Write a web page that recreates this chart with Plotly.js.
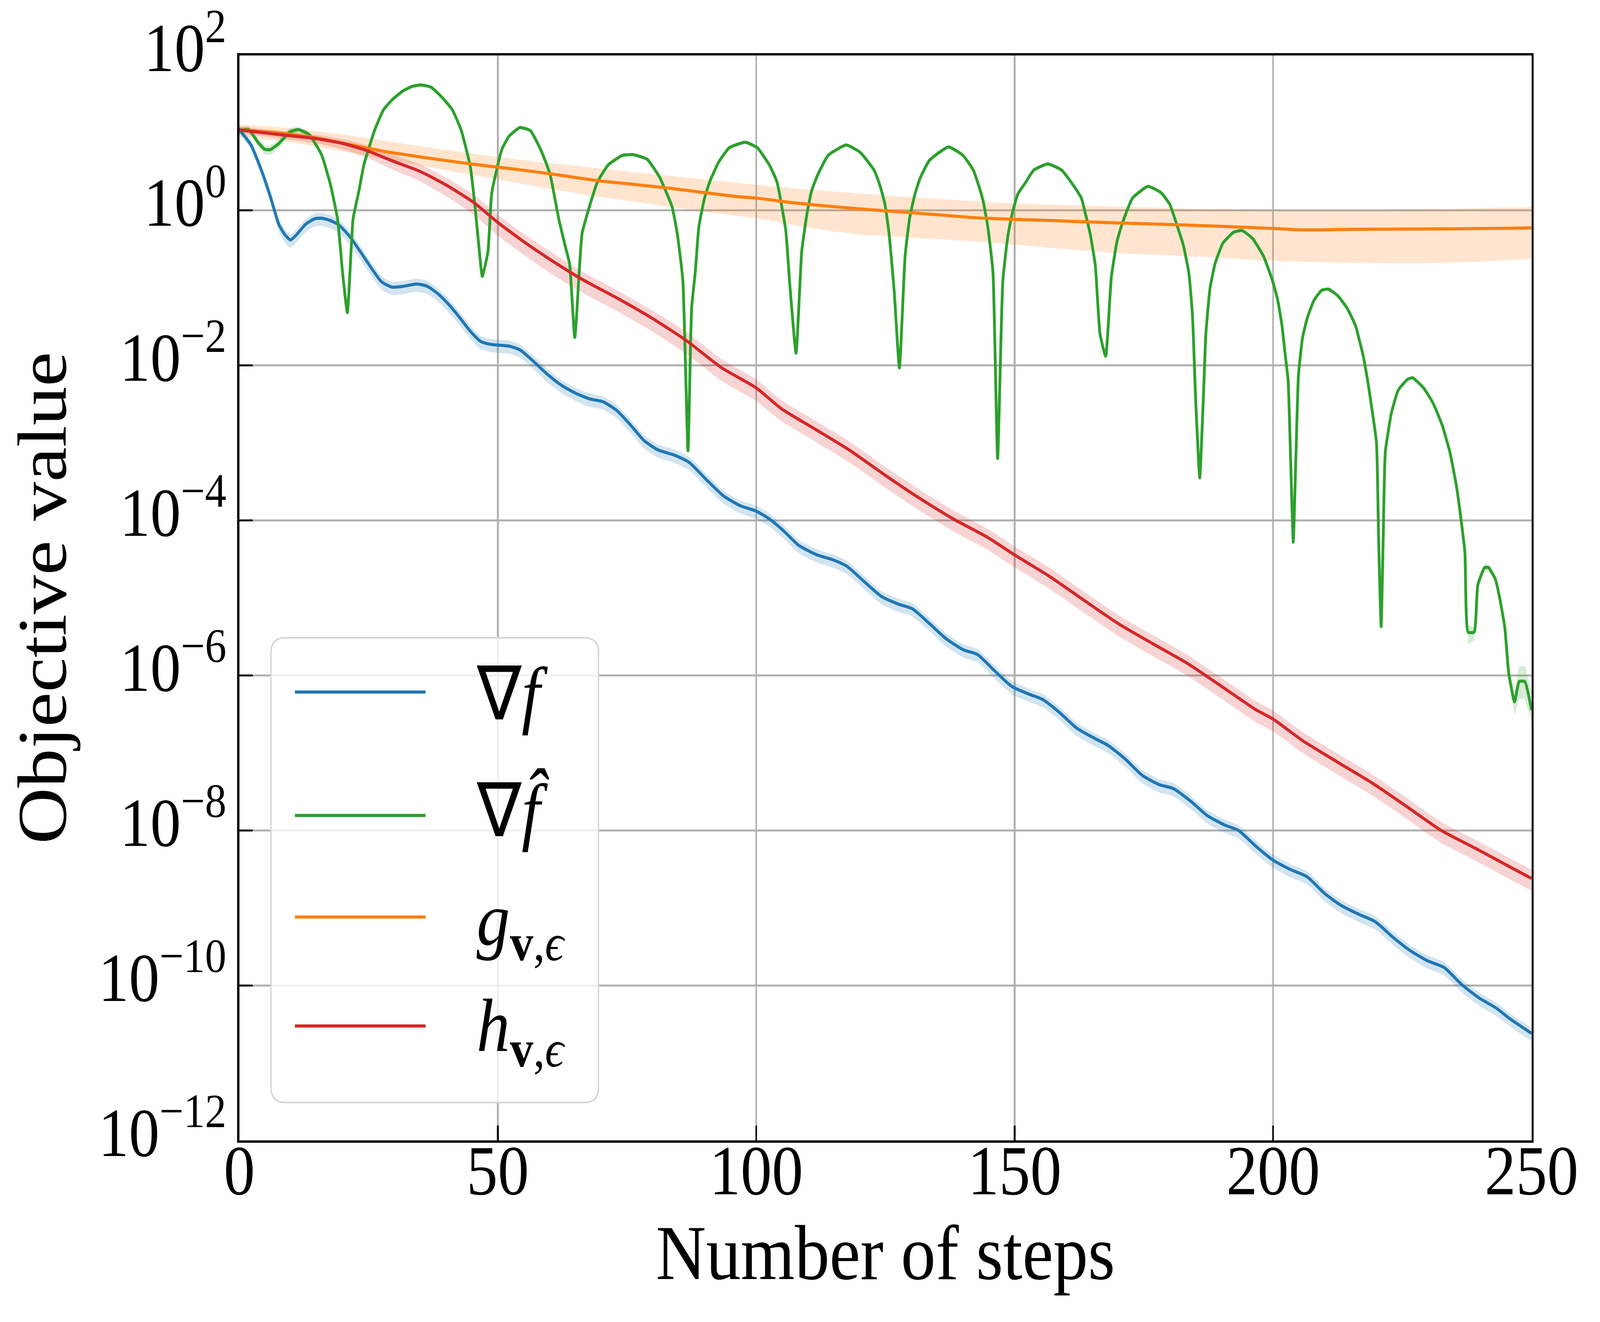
<!DOCTYPE html>
<html>
<head>
<meta charset="utf-8">
<script src="https://cdn.plot.ly/plotly-3.0.1.min.js"></script>
<style>
html, body { margin: 0; padding: 0; background: #ffffff; overflow: hidden; }
#chart { width: 4606px; height: 3385px; transform-origin: 0 0; }
</style>
</head>
<body>
<div id="chart"></div>
<script>
// ---------------- DATA ----------------
const xTickVals = [0, 50, 100, 150, 200, 250];
const xTickText = ['0', '50', '100', '150', '200', '250'];
const yTickExponents = [2, 0, -2, -4, -6, -8, -10, -12];
const seriesLabels = [
  '\u2207<i>f</i>',
  '\u2207<i>f\u0302</i>',
  '<i>g</i><sub><b>v</b>,<i>\u03F5</i></sub>',
  '<i>h</i><sub><b>v</b>,<i>\u03F5</i></sub>'
];
const xTitle = 'Number of steps';
const yTitle = 'Objective value';

// gradient of f : [step, log10 mean, log10 band low, log10 band high]
const gradF = [
  [0, 1.04, 0.99, 1.09], [2.2, 0.85, 0.79, 0.91], [4.2, 0.53, 0.45, 0.60], [6.0, 0.18, 0.09, 0.25],
  [7.7, -0.19, -0.28, -0.12], [8.9, -0.32, -0.42, -0.25], [9.9, -0.38, -0.48, -0.31], [11.1, -0.31, -0.41, -0.24],
  [12.8, -0.18, -0.28, -0.11], [14.5, -0.11, -0.21, -0.04], [15.9, -0.10, -0.20, -0.03], [17.6, -0.13, -0.23, -0.06],
  [19.3, -0.19, -0.29, -0.12], [21.4, -0.34, -0.44, -0.27], [23.4, -0.53, -0.63, -0.46], [25.5, -0.74, -0.84, -0.67],
  [27.5, -0.92, -1.02, -0.85], [29.6, -0.99, -1.09, -0.92], [31.6, -0.98, -1.08, -0.91], [34.4, -0.95, -1.05, -0.88],
  [36.4, -0.98, -1.08, -0.91], [38.5, -1.08, -1.18, -1.01], [40.6, -1.22, -1.32, -1.15], [42.6, -1.38, -1.48, -1.31],
  [44.7, -1.56, -1.66, -1.49], [46.7, -1.69, -1.79, -1.62], [48.8, -1.73, -1.83, -1.66], [52.2, -1.75, -1.85, -1.68],
  [54.3, -1.80, -1.90, -1.73], [56.3, -1.91, -2.01, -1.84], [59.7, -2.12, -2.22, -2.05], [62.4, -2.26, -2.36, -2.19],
  [65.1, -2.36, -2.46, -2.29], [67.7, -2.43, -2.53, -2.36], [70.4, -2.47, -2.57, -2.40], [73.0, -2.58, -2.68, -2.51],
  [75.7, -2.77, -2.87, -2.70], [78.3, -2.97, -3.07, -2.90], [81.0, -3.09, -3.19, -3.02], [84.3, -3.16, -3.26, -3.09],
  [87.0, -3.25, -3.35, -3.18], [90.3, -3.47, -3.57, -3.40], [93.6, -3.68, -3.78, -3.61], [96.9, -3.81, -3.91, -3.74],
  [100.0, -3.88, -3.98, -3.81], [102.3, -3.97, -4.07, -3.90], [104.9, -4.11, -4.21, -4.04], [108.2, -4.32, -4.42, -4.25],
  [111.6, -4.44, -4.54, -4.37], [114.9, -4.51, -4.61, -4.44], [117.5, -4.59, -4.69, -4.52], [120.9, -4.79, -4.89, -4.72],
  [124.2, -4.98, -5.08, -4.91], [127.5, -5.08, -5.18, -5.01], [130.2, -5.14, -5.24, -5.07], [133.5, -5.33, -5.43, -5.26],
  [136.8, -5.53, -5.63, -5.46], [140.1, -5.67, -5.77, -5.60], [142.8, -5.73, -5.83, -5.66], [146.1, -5.94, -6.04, -5.87],
  [149.4, -6.14, -6.24, -6.07], [152.7, -6.24, -6.34, -6.17], [155.4, -6.31, -6.41, -6.24], [158.7, -6.48, -6.58, -6.41],
  [162.0, -6.68, -6.78, -6.61], [165.4, -6.81, -6.91, -6.74], [168.0, -6.90, -7.00, -6.83], [171.4, -7.08, -7.18, -7.01],
  [174.7, -7.29, -7.39, -7.22], [178.0, -7.41, -7.51, -7.34], [180.7, -7.46, -7.56, -7.39], [184.0, -7.62, -7.72, -7.55],
  [187.3, -7.81, -7.91, -7.74], [190.6, -7.93, -8.03, -7.86], [193.3, -8.00, -8.10, -7.93], [196.6, -8.20, -8.30, -8.13],
  [199.9, -8.38, -8.48, -8.31], [203.2, -8.50, -8.60, -8.43], [206.6, -8.60, -8.70, -8.53], [209.9, -8.81, -8.91, -8.74],
  [213.2, -8.97, -9.07, -8.90], [216.5, -9.08, -9.18, -9.01], [219.8, -9.18, -9.28, -9.11], [223.2, -9.38, -9.48, -9.31],
  [226.5, -9.55, -9.65, -9.48], [229.8, -9.68, -9.78, -9.61], [233.1, -9.77, -9.87, -9.70], [236.5, -9.99, -10.09, -9.92],
  [239.8, -10.16, -10.26, -10.09], [243.1, -10.29, -10.39, -10.22], [245.8, -10.43, -10.53, -10.36], [250.0, -10.62, -10.72, -10.55]
];

// gradient of f-hat : [step, log10 mean]
const gradFHat = [
  [0, 1.03], [1.8, 1.044], [3.6, 0.88], [4.9, 0.79], [6.0, 0.785], [7.7, 0.867], [9.7, 1.01], [11.4, 1.044],
  [13.5, 0.98], [15.9, 0.72], [17.6, 0.34], [19.0, -0.11], [20.0, -0.82], [20.9, -1.32], [22.0, -0.11], [23.1, 0.24],
  [24.1, 0.59], [26.2, 1.04], [27.9, 1.30], [29.6, 1.43], [31.6, 1.54], [33.4, 1.60], [35.1, 1.62], [37.1, 1.59],
  [39.2, 1.46], [41.2, 1.30], [42.9, 1.04], [44.7, 0.56], [45.7, -0.02], [46.4, -0.50], [47.0, -0.85], [48.1, -0.53],
  [48.8, 0.21], [49.8, 0.53], [50.8, 0.79], [52.2, 0.96], [54.3, 1.07], [56.3, 1.03], [58.4, 0.77], [60.1, 0.47],
  [61.8, -0.11], [63.2, -0.50], [63.9, -0.69], [64.9, -1.64], [66.3, -0.30], [67.6, 0.02], [69.3, 0.37], [71.4, 0.59],
  [74.1, 0.71], [76.2, 0.72], [78.9, 0.66], [81.3, 0.43], [83.7, 0.05], [84.7, -0.29], [85.8, -0.90], [86.8, -3.10],
  [87.5, -1.26], [88.2, -0.80], [88.9, -0.21], [90.0, 0.16], [91.0, 0.37], [92.7, 0.62], [94.8, 0.81], [97.9, 0.88],
  [100.2, 0.81], [102.6, 0.58], [104.0, 0.37], [105.7, -0.25], [106.5, -0.96], [107.7, -1.84], [108.8, -0.53], [109.8, -0.05],
  [110.7, 0.25], [111.9, 0.46], [113.9, 0.71], [117.4, 0.845], [120.1, 0.75], [122.8, 0.52], [123.9, 0.33], [124.9, 0.08],
  [125.7, -0.30], [126.7, -1.05], [127.7, -2.03], [128.8, -0.59], [129.7, -0.09], [130.7, 0.21], [131.7, 0.415], [133.5, 0.645],
  [137.2, 0.82], [140.0, 0.71], [142.0, 0.52], [143.0, 0.33], [143.9, 0.12], [144.8, -0.21], [145.8, -0.80], [146.7, -3.20],
  [147.7, -0.92], [148.7, -0.32], [149.6, -0.02], [150.6, 0.21], [152.0, 0.35], [153.7, 0.52], [156.4, 0.60], [159.1, 0.52],
  [161.5, 0.31], [162.9, 0.16], [163.6, -0.02], [164.6, -0.30], [165.6, -0.71], [166.5, -1.59], [167.6, -1.88], [168.7, -0.86],
  [169.8, -0.40], [170.8, -0.17], [172.8, 0.16], [175.8, 0.31], [178.3, 0.23], [180.0, 0.08], [181.4, -0.19], [182.6, -0.44],
  [183.7, -0.81], [184.4, -1.36], [185.0, -2.42], [185.8, -3.45], [186.5, -2.42], [187.0, -1.58], [187.8, -1.00], [188.8, -0.68],
  [190.3, -0.42], [192.4, -0.28], [194.0, -0.26], [196.0, -0.36], [198.1, -0.585], [199.9, -0.91], [200.9, -1.16], [201.7, -1.48],
  [202.3, -1.84], [202.9, -2.19], [203.4, -3.25], [203.9, -4.28], [204.4, -3.19], [204.9, -2.13], [205.7, -1.64], [206.6, -1.39],
  [207.9, -1.16], [209.4, -1.03], [210.7, -1.015], [212.5, -1.10], [214.3, -1.26], [215.9, -1.48], [217.4, -1.87], [218.2, -2.16],
  [219.0, -2.51], [220.0, -3.00], [220.4, -4.22], [220.9, -5.37], [221.3, -4.22], [221.7, -3.12], [222.9, -2.61], [224.2, -2.32],
  [226.0, -2.18], [227.0, -2.16], [229.1, -2.29], [230.9, -2.48], [232.7, -2.77], [234.2, -3.12], [235.5, -3.57], [236.3, -3.96],
  [237.1, -4.41], [237.7, -5.44], [238.9, -5.44], [239.6, -4.83], [240.9, -4.61], [241.7, -4.61], [243.0, -4.76], [243.8, -4.99],
  [244.8, -5.37], [245.6, -5.98], [246.7, -6.34], [247.6, -6.08], [248.7, -6.08], [250.0, -6.45]
];
// visible spread of gradient f-hat : [step, log10 low, log10 high]
const gradFHatBandStart = [
  [0, 0.98, 1.08], [1.8, 1.00, 1.08], [3.6, 0.83, 0.93], [4.9, 0.73, 0.84], [6.0, 0.72, 0.84],
  [7.7, 0.81, 0.92], [9.7, 0.97, 1.06], [11.4, 1.01, 1.08], [13.5, 0.95, 1.01]
];
const gradFHatBandEnd = [
  [237.1, -4.45, -4.37], [237.7, -5.60, -5.35], [238.9, -5.55, -5.38], [239.6, -4.90, -4.78], [240.9, -4.66, -4.56],
  [241.7, -4.66, -4.56], [243.0, -4.80, -4.72], [243.8, -5.03, -4.95], [244.8, -5.42, -5.32], [245.6, -6.05, -5.90],
  [246.7, -6.52, -6.20], [247.6, -6.30, -5.88], [248.7, -6.30, -5.88], [250.0, -6.62, -6.20]
];

// g_{v,eps} : [step, log10 mean]
const gVE = [
  [0, 1.04], [7.7, 1.00], [14.5, 0.94], [21.4, 0.85], [28.2, 0.76], [35.1, 0.69], [41.9, 0.626], [48.8, 0.568],
  [55.6, 0.514], [62.5, 0.45], [69.3, 0.385], [76.2, 0.337], [83.0, 0.289], [89.9, 0.23], [96.7, 0.176], [100.0, 0.16],
  [107.0, 0.10], [115.3, 0.047], [122.0, 0.01], [129.0, -0.024], [136.0, -0.06], [142.7, -0.095], [150.0, -0.115],
  [156.4, -0.128], [163.0, -0.145], [170.1, -0.162], [177.0, -0.175], [183.8, -0.19], [190.0, -0.205], [195.3, -0.22],
  [201.0, -0.235], [205.1, -0.25], [210.0, -0.25], [215.4, -0.244], [225.0, -0.24], [233.5, -0.237], [242.0, -0.232], [250.0, -0.225]
];
// spread of g_{v,eps} : [step, log10 low, log10 high]
const gVEBand = [
  [0, 0.95, 1.11], [10, 0.88, 1.06], [20, 0.76, 0.98], [30, 0.64, 0.88], [40, 0.52, 0.78], [50, 0.40, 0.69],
  [60, 0.28, 0.61], [70, 0.17, 0.54], [80, 0.08, 0.47], [90, -0.02, 0.40], [100, -0.10, 0.33], [110, -0.22, 0.27],
  [120, -0.31, 0.22], [130, -0.35, 0.17], [140, -0.39, 0.13], [150, -0.44, 0.09], [160, -0.50, 0.07], [170, -0.55, 0.05],
  [180, -0.58, 0.03], [190, -0.61, 0.01], [200, -0.65, 0.00], [210, -0.67, 0.00], [220, -0.68, 0.00], [230, -0.68, 0.01],
  [240, -0.66, 0.03], [250, -0.62, 0.04]
];

// h_{v,eps} : [step, log10 mean, log10 band low, log10 band high]
const hVE = [
  [0, 1.04, 1.00, 1.08], [7.7, 0.98, 0.93, 1.03], [14.5, 0.93, 0.87, 0.98], [20, 0.865, 0.79, 0.92],
  [24.8, 0.77, 0.68, 0.84], [29.6, 0.64, 0.53, 0.72], [35.1, 0.50, 0.37, 0.59], [40.6, 0.305, 0.16, 0.40],
  [45.4, 0.10, -0.06, 0.20], [50.1, -0.16, -0.33, -0.06], [55.6, -0.43, -0.60, -0.33], [61.1, -0.675, -0.85, -0.57],
  [66.6, -0.90, -1.07, -0.80], [72.8, -1.12, -1.29, -1.02], [79.6, -1.38, -1.55, -1.28], [86.5, -1.68, -1.85, -1.57],
  [93.3, -2.03, -2.20, -1.92], [100, -2.29, -2.46, -2.18], [104.9, -2.56, -2.72, -2.45], [111.6, -2.83, -2.99, -2.72],
  [118.2, -3.10, -3.26, -2.99], [124.8, -3.41, -3.57, -3.30], [131.5, -3.71, -3.87, -3.60], [138.1, -3.98, -4.14, -3.87],
  [144.8, -4.22, -4.38, -4.11], [150.1, -4.45, -4.61, -4.34], [156.7, -4.72, -4.88, -4.61], [163.4, -5.03, -5.19, -4.92],
  [170, -5.33, -5.49, -5.22], [176.7, -5.59, -5.75, -5.48], [183.3, -5.84, -6.00, -5.73], [190, -6.14, -6.30, -6.03],
  [196.6, -6.44, -6.60, -6.33], [199.9, -6.56, -6.72, -6.45], [205.9, -6.85, -7.01, -6.74], [212.5, -7.12, -7.28, -7.01],
  [219.2, -7.39, -7.55, -7.28], [225.8, -7.69, -7.85, -7.58], [232.5, -8.00, -8.16, -7.89], [239.1, -8.23, -8.39, -8.12],
  [245.8, -8.47, -8.63, -8.36], [250, -8.62, -8.78, -8.51]
];

// ---------------- STYLE ----------------
const COLORS = ['#1f77b4', '#2ca02c', '#ff7f0e', '#d62728'];
const BANDS = ['rgba(31,119,180,0.2)', 'rgba(44,160,44,0.2)', 'rgba(255,127,14,0.2)', 'rgba(214,39,40,0.2)'];
const FONT = 'Liberation Serif, Times New Roman, Times, serif';
const W = 4606, H = 3385;
const PL = 689, PR = 4409, PT = 142, PB = 2920;   // plot-area pixel box
const LW = 8;

// the design is laid out for 4606x3385; stretch it onto whatever viewport the page gets
const sx = (window.innerWidth || W) / W, sy = (window.innerHeight || H) / H;
if (Math.abs(sx - 1) > 0.002 || Math.abs(sy - 1) > 0.002) {
  document.getElementById('chart').style.transform = 'scale(' + sx + ',' + sy + ')';
}

const col = (rows, i) => rows.map(r => r[i]);
const pow = (rows, i) => rows.map(r => Math.pow(10, r[i]));

function band(rows, loIdx, hiIdx, color, shape) {
  return [
    {x: col(rows, 0), y: pow(rows, loIdx), mode: 'lines', line: {width: 0, shape: shape, smoothing: 0.6},
     hoverinfo: 'skip', showlegend: false},
    {x: col(rows, 0), y: pow(rows, hiIdx), mode: 'lines', line: {width: 0, shape: shape, smoothing: 0.6},
     fill: 'tonexty', fillcolor: color, hoverinfo: 'skip', showlegend: false}
  ];
}
function line(rows, name, color, shape, smooth) {
  return {x: col(rows, 0), y: pow(rows, 1), mode: 'lines', name: name,
          line: {color: color, width: LW, shape: shape, smoothing: smooth}, showlegend: false};
}

const traces = [].concat(
  band(gradF, 2, 3, BANDS[0], 'spline'),
  band(gradFHatBandStart, 1, 2, BANDS[1], 'spline'),
  band(gradFHatBandEnd, 1, 2, BANDS[1], 'linear'),
  band(gVEBand, 1, 2, BANDS[2], 'spline'),
  band(hVE, 2, 3, BANDS[3], 'spline'),
  [line(gradF, seriesLabels[0], COLORS[0], 'spline', 0.6),
   line(gradFHat, seriesLabels[1], COLORS[1], 'spline', 0.45),
   line(gVE, seriesLabels[2], COLORS[2], 'spline', 0.6),
   line(hVE, seriesLabels[3], COLORS[3], 'spline', 0.6)]
);

// legend drawn with shapes + annotations (matplotlib-like long handles)
const px = v => (v - PL) / (PR - PL);
const py = v => (PB - v) / (PB - PT);
const box = {l: 780, r: 1723, t: 1633, b: 2823, rad: 40};
const x0 = px(box.l), x1 = px(box.r), y0 = py(box.b), y1 = py(box.t);
const rx = box.rad / (PR - PL), ry = box.rad / (PB - PT);
const boxPath = `M${x0 + rx},${y1} L${x1 - rx},${y1} Q${x1},${y1} ${x1},${y1 - ry} L${x1},${y0 + ry} ` +
  `Q${x1},${y0} ${x1 - rx},${y0} L${x0 + rx},${y0} Q${x0},${y0} ${x0},${y0 + ry} L${x0},${y1 - ry} Q${x0},${y1} ${x0 + rx},${y1} Z`;
const legendRowY = [1772, 2088, 2348, 2627];
const legendTextY = [1777, 2075, 2368, 2640];
const shapes = [{type: 'path', xref: 'paper', yref: 'paper', path: boxPath, layer: 'above',
                 fillcolor: 'rgba(255,255,255,0.8)', line: {color: '#d5d5d5', width: 4}}];
const annotations = [];
legendRowY.forEach((yy, i) => {
  shapes.push({type: 'line', xref: 'paper', yref: 'paper', layer: 'above',
               x0: px(849), x1: px(1225), y0: py(yy), y1: py(yy), line: {color: COLORS[i], width: LW}});
  annotations.push({xref: 'paper', yref: 'paper', x: px(1370), y: py(legendTextY[i]), xanchor: 'left', yanchor: 'middle',
                    text: seriesLabels[i], showarrow: false,
                    font: {family: FONT, size: 192, color: '#000'}});
});

const axisCommon = {
  showline: true, linecolor: '#000', linewidth: 6, mirror: true,
  ticks: 'inside', ticklen: 38, tickwidth: 5, tickcolor: '#000',
  showgrid: true, gridcolor: '#b0b0b0', gridwidth: 5, zeroline: false,
  automargin: false, ticklabeloverflow: 'allow'
};

const layout = {
  width: W, height: H,
  margin: {l: PL, r: W - PR, t: PT, b: H - PB, pad: 0},
  paper_bgcolor: '#ffffff', plot_bgcolor: '#ffffff',
  font: {family: FONT, color: '#000'},
  showlegend: false,
  xaxis: Object.assign({}, axisCommon, {
    range: [0, 250], tickmode: 'array', tickvals: xTickVals, ticktext: xTickText,
    tickfont: {family: FONT, size: 180, color: '#000'}, ticklabelstandoff: -84,
    title: {text: xTitle, font: {family: FONT, size: 200, color: '#000'}, standoff: 1}
  }),
  yaxis: Object.assign({}, axisCommon, {
    type: 'log', range: [-12, 2], tickmode: 'array',
    tickvals: yTickExponents.map(e => Math.pow(10, e)),
    ticktext: yTickExponents.map(e => '10<sup>' + (e < 0 ? '\u2212' + (-e) : e) + '</sup>'),
    tickfont: {family: FONT, size: 176, color: '#000'}, ticklabelstandoff: -4, ticklabelshift: -22,
    title: {text: yTitle, font: {family: FONT, size: 200, color: '#000'}, standoff: 27}
  }),
  shapes: shapes,
  annotations: annotations
};

Plotly.newPlot('chart', traces, layout, {displayModeBar: false}).then(gd => {
  // expose each text's size as a plain attribute too
  gd.querySelectorAll('text, tspan').forEach(t => {
    const fs = t.style && t.style.fontSize;
    if (fs) t.setAttribute('font-size', parseFloat(fs));
  });
});
</script>
</body>
</html>
